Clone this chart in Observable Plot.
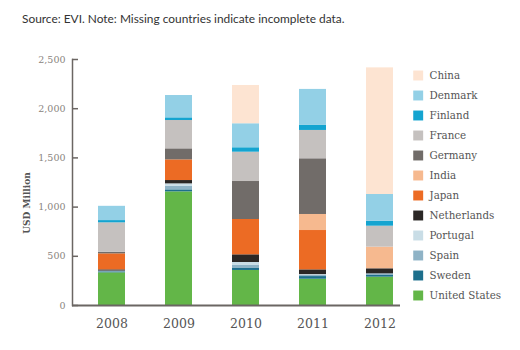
<!DOCTYPE html>
<html>
<head>
<meta charset="utf-8">
<script src="https://cdn.jsdelivr.net/npm/d3@7"></script>
<script src="https://cdn.jsdelivr.net/npm/@observablehq/plot@0.6"></script>
<style>
  body { margin: 0; background: #fff; }
  #wrap { position: relative; width: 520px; height: 350px; overflow: hidden; }
  #wrap svg { position: absolute; top: 0; }
  #caption { position: absolute; left: 22px; top: 11px; font: 11.9px Lato, sans-serif; color: #333; white-space: nowrap; }
  #ylabel { position: absolute; left: 27px; top: 203px; transform: translate(-50%, -50%) rotate(-90deg); font: bold 9px "DejaVu Serif", serif; color: #555; white-space: nowrap; }
</style>
</head>
<body>
<div id="wrap">
  <div id="caption">Source: EVI. Note: Missing countries indicate incomplete data.</div>
  <div id="ylabel">USD Million</div>
</div>
<script>
const years = ["2008", "2009", "2010", "2011", "2012"];
const countries = ["China", "Denmark", "Finland", "France", "Germany", "India", "Japan", "Netherlands", "Portugal", "Spain", "Sweden", "United States"];
const colors = ["#fde4d2", "#93d0e6", "#14a4d0", "#c5c1bf", "#716c69", "#f6b98f", "#ec6b24", "#2b2725", "#c9dde6", "#8fb3c6", "#1d6f8c", "#63b648"];
const yTicks = [0, 500, 1000, 1500, 2000, 2500];

// values per year 2008..2012 (USD million)
const china        = [0, 0, 389, 0, 1287];
const denmark      = [145, 227, 244, 366, 271];
const finland      = [23, 27, 45, 51, 51];
const france       = [299, 288, 298, 288, 213];
const germany      = [16, 112, 386, 566, 0];
const india        = [0, 0, 0, 163, 220];
const japan        = [163, 210, 359, 400, 0];
const netherlands  = [12, 34, 78, 48, 51];
const portugal     = [0, 25, 30, 8, 0];
const spain        = [8, 36, 31, 12, 17];
const sweden       = [10, 20, 20, 27, 17];
const unitedStates = [332, 1155, 356, 267, 288];

const series = [china, denmark, finland, france, germany, india, japan, netherlands, portugal, spain, sweden, unitedStates];
const stackOrder = countries.slice().reverse();

const data = [];
stackOrder.forEach(c => {
  const vals = series[countries.indexOf(c)];
  years.forEach((y, i) => { if (vals[i] > 0) data.push({year: y, country: c, value: vals[i]}); });
});

const axisColor = "#6b6663";

const chart = Plot.plot({
  width: 520,
  height: 350,
  marginLeft: 72,
  marginRight: 120,
  marginTop: 59,
  marginBottom: 45,
  style: {fontFamily: "DejaVu Serif, serif", background: "transparent"},
  x: {domain: years, range: [77.1, 414.1], paddingInner: 0.593, paddingOuter: 0.3, align: 0.5},
  y: {domain: [0, 2500]},
  color: {domain: countries, range: colors},
  marks: [
    Plot.barY(data, {x: "year", y: "value", fill: "country", order: stackOrder}),
    Plot.axisY({ticks: yTicks, tickSize: 0, tickPadding: 7, tickFormat: d3.format(","), label: null, fontSize: 9.5, color: "#8a8480"}),
    Plot.tickY(yTicks, {y: d => d, insetRight: 322, stroke: axisColor, strokeWidth: 1.5}),
    Plot.axisX({tickSize: 0, tickPadding: 14, label: null, fontSize: 12.5, color: "#555"}),
    Plot.frame({anchor: "left", stroke: axisColor, strokeWidth: 1.5}),
    Plot.ruleY([0], {stroke: axisColor, strokeWidth: 2})
  ]
});

const legend = Plot.plot({
  width: 120,
  height: 350,
  margin: 0,
  style: {fontFamily: "DejaVu Serif, serif", background: "transparent"},
  y: {type: "point", domain: countries, range: [69.3, 300], padding: 0, axis: null},
  color: {domain: countries, range: colors},
  marks: [
    Plot.dot(countries, {y: d => d, fill: d => d, symbol: "square", r: 5.6, frameAnchor: "left", dx: 17.7}),
    Plot.text(countries, {y: d => d, text: d => d, frameAnchor: "left", dx: 29, textAnchor: "start", fontSize: 10.3, fill: "#555"})
  ]
});
legend.style.left = "400px";

const wrap = document.getElementById("wrap");
wrap.prepend(chart);
wrap.appendChild(legend);
</script>
</body>
</html>
